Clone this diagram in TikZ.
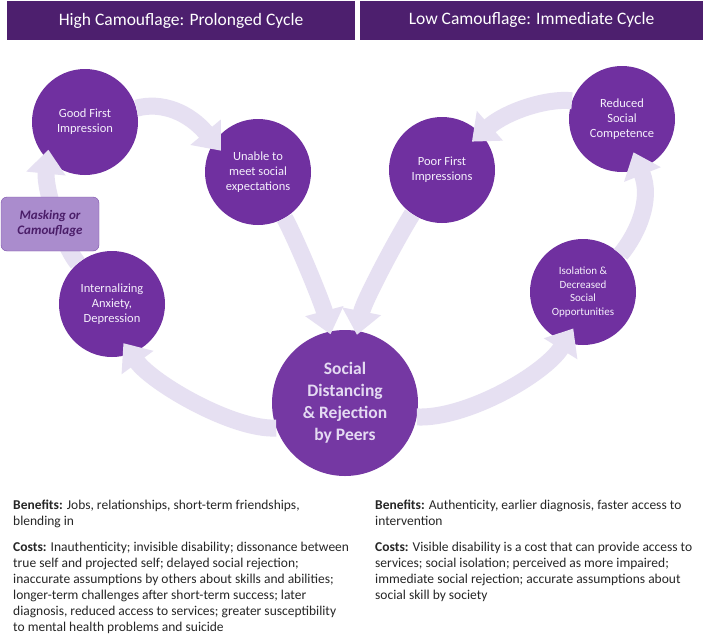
\documentclass[tikz,border=0pt]{standalone}
\usepackage{fontspec}
\setmainfont{Carlito}
\usetikzlibrary{arrows.meta}
\definecolor{headpurple}{RGB}{77,31,110}
\definecolor{cyclepurple}{RGB}{112,48,160}
\definecolor{bigpurple}{RGB}{117,56,163}
\definecolor{arrowlav}{RGB}{230,224,242}
\definecolor{maskfill}{RGB}{170,140,205}
\definecolor{maskline}{RGB}{125,80,170}
\definecolor{masktext}{RGB}{75,30,105}
\definecolor{bubbletext}{RGB}{245,240,252}
\definecolor{bigtext}{RGB}{228,218,242}
\definecolor{bodytext}{RGB}{38,38,38}

\begin{document}
\begin{tikzpicture}[
            x=1pt, y=-1pt,
            header/.style={fill=headpurple, text=white, minimum height=39pt, inner sep=0pt, font=\fontsize{17.5}{21}\selectfont},
            bubble/.style={circle, fill=cyclepurple, minimum size=106pt, inner sep=0pt, align=center, text=bubbletext, font=\fontsize{12.5}{15}\selectfont},
            cyclearrow/.style={draw=arrowlav, line width=17pt, -{Triangle[width=38pt,length=24pt]}},
            notes/.style={anchor=north west, inner sep=0pt, align=left, text=bodytext, font=\fontsize{13.5}{16}\selectfont}
            ]
            \useasboundingbox[fill=white] (0,0) rectangle (709,637);
            \node[header, minimum width=348pt] (hhigh) at (181,20.5) {High Camouflage: Prolonged Cycle};
            \node[header, minimum width=343pt] (hlow) at (531.5,20) {Low Camouflage: Immediate Cycle};
            \node[bubble] (good) at (85,122) {Good First\\Impression};
            \node[bubble] (unable) at (258,172) {Unable to\\meet social\\expectations};
            \node[bubble] (intern) at (112,304) {Internalizing\\Anxiety,\\Depression};
            \node[bubble] (poor) at (442,170) {Poor First\\Impressions};
            \node[bubble] (reduced) at (622,119) {Reduced\\Social\\Competence};
            \node[bubble, font=\fontsize{11}{13.5}\selectfont] (isol) at (583,292) {Isolation \&\\Decreased\\Social\\Opportunities};
            \node[bubble, fill=bigpurple, minimum size=146pt, text=bigtext, font=\bfseries\fontsize{17.5}{22}\selectfont] (social) at (345,403) {Social\\Distancing\\\& Rejection\\by Peers};
            \draw[cyclearrow, shorten >=-11pt] (good.15) .. controls +(25,-7) and +(-25,-30) .. (unable.146);
            \draw[cyclearrow, shorten >=-3pt] (unable.-60) .. controls +(12,22) and +(-8,-30) .. (social.102);
            \draw[cyclearrow, shorten >=-4pt] (poor.-124) .. controls +(-14,22) and +(6,-30) .. (social.80);
            \draw[cyclearrow, shorten >=-12pt] (reduced.160) .. controls +(-25,-3) and +(25,-22) .. (poor.43);
            \draw[cyclearrow, shorten >=-18pt] (isol.45) .. controls +(18,-22) and +(12,30) .. (reduced.-70);
            \draw[cyclearrow, shorten >=-16pt] (social.-11) .. controls +(50,2) and +(-20,32) .. (isol.-110);
            \draw[cyclearrow, shorten >=-13pt] (social.200) .. controls +(-43,2) and +(22,30) .. (intern.-69);
            \draw[cyclearrow, shorten >=-10pt] (intern.130) .. controls +(-15,-18) and +(-3,30) .. (good.-135);
            \node[draw=maskline, fill=maskfill, rounded corners=6pt, minimum width=98pt, minimum height=54pt, align=center, text=masktext, font=\bfseries\itshape\fontsize{13}{15}\selectfont] (mask) at (50,224) {Masking or\\Camouflage};
            \node[notes] (highnotes) at (13,500) {\textbf{Benefits:} Jobs, relationships, short-term friendships,\\blending in\\[10pt]\textbf{Costs:} Inauthenticity; invisible disability; dissonance between\\true self and projected self; delayed social rejection;\\inaccurate assumptions by others about skills and abilities;\\longer-term challenges after short-term success; later\\diagnosis, reduced access to services; greater susceptibility\\to mental health problems and suicide};
            \node[notes] (lownotes) at (375,500) {\textbf{Benefits:} Authenticity, earlier diagnosis, faster access to\\intervention\\[10pt]\textbf{Costs:} Visible disability is a cost that can provide access to\\services; social isolation; perceived as more impaired;\\immediate social rejection; accurate assumptions about\\social skill by society};
        \end{tikzpicture}
\end{document}
